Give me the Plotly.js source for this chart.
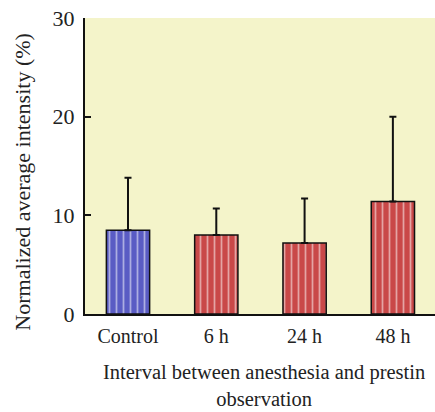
<!DOCTYPE html>
<html><head><meta charset="utf-8">
<script src="https://cdn.plot.ly/plotly-3.0.1.min.js"></script>
<style>html,body{margin:0;padding:0;background:#fff}#chart{width:435px;height:412px}</style>
</head><body><div id="chart"></div>
<script>
const categories = ["Control", "6 h", "24 h", "48 h"];
const means = [8.5, 8.0, 7.2, 11.4];
const errorsUp = [5.3, 2.7, 4.5, 8.6];
const yTicks = [0, 10, 20, 30];
const barColors = ["#5a5cc4", "#c94848", "#c94848", "#c94848"];
const stripeColors = ["#a884cc", "#e08282", "#e08282", "#e08282"];

const trace = {
  type: "bar",
  x: categories,
  y: means,
  width: 0.49,
  marker: {
    color: barColors,
    line: {color: "#111", width: 1.5},
    pattern: {shape: "|", fgcolor: stripeColors, bgcolor: barColors, size: 7, solidity: 0.25, fillmode: "overlay"}
  },
  error_y: {type: "data", symmetric: false, array: errorsUp, arrayminus: [0,0,0,0], color: "#111", thickness: 2, width: 3.5},
  hoverinfo: "none"
};

const FAM = "'Liberation Serif', 'DejaVu Serif', serif";
const font = {family: FAM, color: "#222"};

const layout = {
  width: 435, height: 412,
  margin: {l: 85, r: 0, t: 18, b: 98},
  paper_bgcolor: "#ffffff",
  plot_bgcolor: "#f4f4ca",
  showlegend: false,
  font: Object.assign({size: 20}, font),
  xaxis: {
    type: "category",
    range: [-0.487, 3.477],
    showline: true, linecolor: "#111", linewidth: 2,
    ticks: "", showgrid: false, zeroline: false,
    tickfont: Object.assign({size: 20}, font),
    ticklabelstandoff: 3,
    fixedrange: true
  },
  yaxis: {
    range: [0, 30],
    tickvals: yTicks,
    ticktext: yTicks.map(String),
    showline: true, linecolor: "#111", linewidth: 2,
    ticks: "inside", ticklen: 6, tickwidth: 2, tickcolor: "#111",
    showgrid: false, zeroline: false,
    tickfont: Object.assign({size: 22}, font),
    ticklabelstandoff: 4,
    fixedrange: true
  },
  annotations: [
    {
      text: "Normalized average intensity (%)",
      xref: "paper", yref: "paper", x: -0.177, y: 0.444,
      xanchor: "center", yanchor: "middle", textangle: -90, showarrow: false,
      font: Object.assign({size: 22}, font)
    },
    {
      text: "Interval between anesthesia and prestin<br>observation",
      xref: "paper", yref: "paper", x: 0.51, y: -0.24,
      xanchor: "center", yanchor: "middle", showarrow: false,
      font: Object.assign({size: 20.5}, font)
    }
  ]
};

Plotly.newPlot("chart", [trace], layout, {displayModeBar: false, staticPlot: true});
</script>
</body></html>
